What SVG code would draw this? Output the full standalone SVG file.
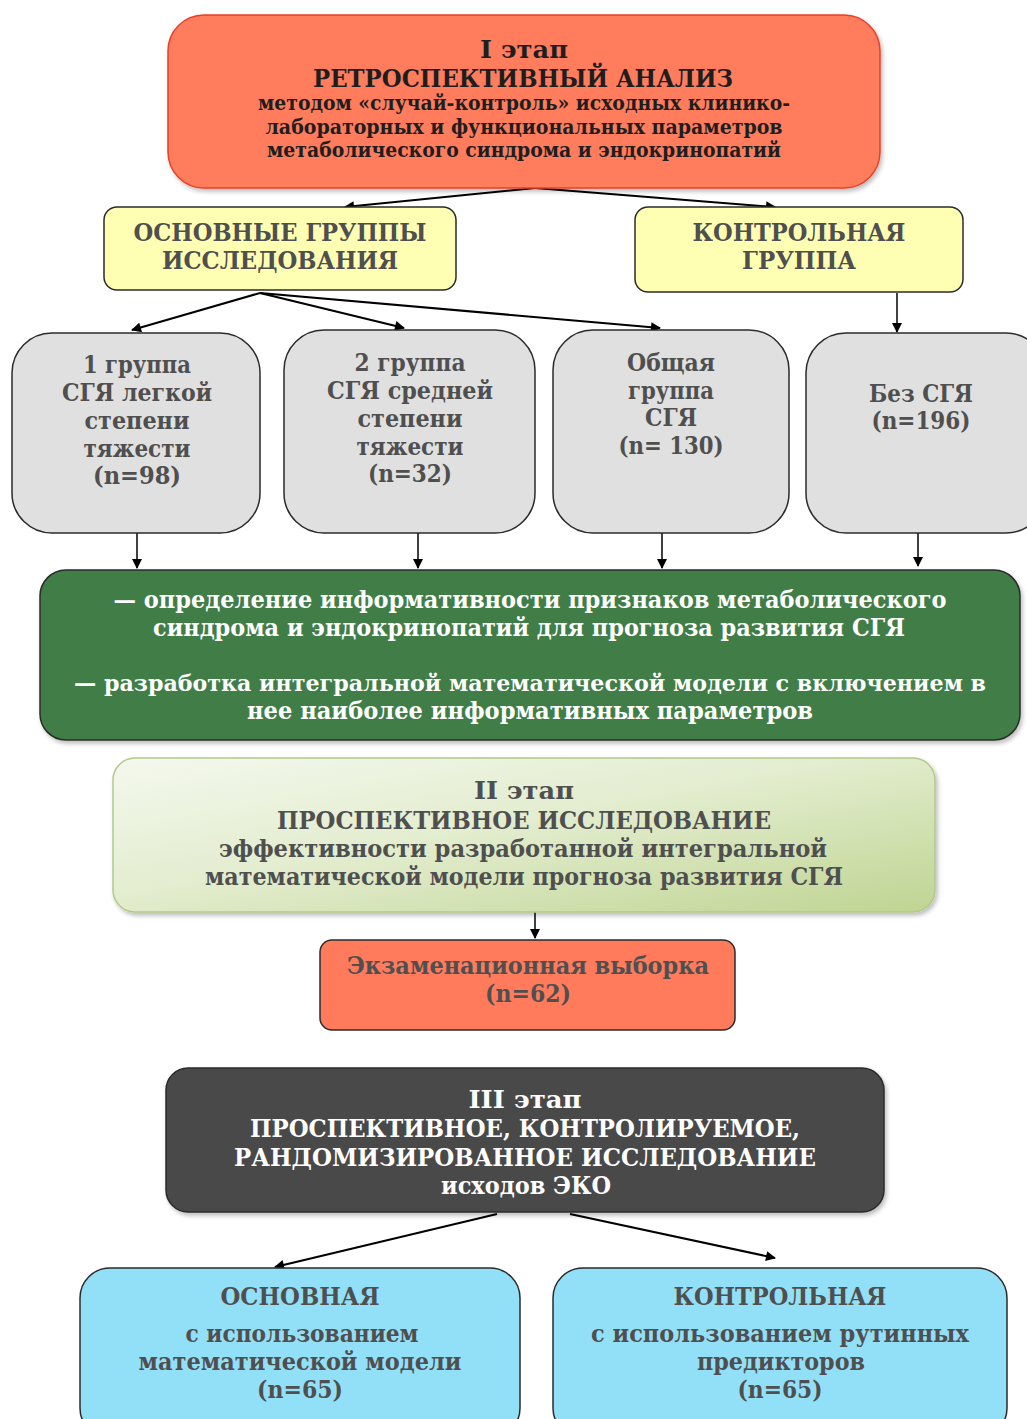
<svg xmlns="http://www.w3.org/2000/svg" width="1027" height="1419" viewBox="0 0 1027 1419">
<defs>
<style>
text{font-family:"DejaVu Serif","Liberation Serif",serif;font-weight:bold;text-anchor:middle}
.big{font-size:25px}
.mid{font-size:24px}
.sm{font-size:20px}
.dk{fill:#1e1e1e}
.gr{fill:#4f4f4f}
.wh{fill:#ffffff}
.box{stroke:#2b2b2b;stroke-width:1.5}
.con{stroke:#000;stroke-width:2;fill:none;marker-end:url(#ah)}
.conv{stroke:#000;stroke-width:1.5;fill:none;marker-end:url(#ah)}
</style>
<marker id="ah" viewBox="0 0 10 10" refX="9" refY="5" markerWidth="12" markerHeight="10" markerUnits="userSpaceOnUse" orient="auto">
<path d="M0,0 L10,5 L0,10 Z" fill="#000"/>
</marker>
<linearGradient id="g2" x1="0" y1="0" x2="1" y2="1">
<stop offset="0" stop-color="#f4f8ee"/>
<stop offset="0.45" stop-color="#e3edcf"/>
<stop offset="1" stop-color="#bfd492"/>
</linearGradient>
<filter id="sh" x="-5%" y="-5%" width="110%" height="120%">
<feDropShadow dx="2" dy="3" stdDeviation="2" flood-color="#000" flood-opacity="0.25"/>
</filter>
</defs>

<g id="connectors">
<line class="con" x1="535" y1="188" x2="345" y2="207"/>
<line class="con" x1="535" y1="188" x2="775" y2="207"/>
<line class="con" x1="260" y1="293" x2="132" y2="330"/>
<line class="con" x1="260" y1="293" x2="404" y2="328"/>
<line class="con" x1="260" y1="293" x2="660" y2="328"/>
<line class="conv" x1="897" y1="293" x2="897" y2="332"/>
<line class="conv" x1="137" y1="533" x2="137" y2="568"/>
<line class="conv" x1="418" y1="533" x2="418" y2="568"/>
<line class="conv" x1="662" y1="533" x2="662" y2="568"/>
<line class="conv" x1="918" y1="533" x2="918" y2="566"/>
<line class="conv" x1="535" y1="912" x2="535" y2="938"/>
<line class="con" x1="497" y1="1214" x2="275" y2="1267"/>
<line class="con" x1="570" y1="1214" x2="775" y2="1258"/>
</g>

<g id="stage1">
<rect x="168" y="15" width="712" height="173" rx="36" fill="#ff7b5c" stroke="#e8402a" stroke-width="1.5" filter="url(#sh)"/>
<text class="big dk" x="524" y="58" textLength="88" lengthAdjust="spacingAndGlyphs">I этап</text>
<text class="big dk" x="523" y="87" textLength="420" lengthAdjust="spacingAndGlyphs">РЕТРОСПЕКТИВНЫЙ АНАЛИЗ</text>
<text class="sm dk" x="524" y="110" textLength="532" lengthAdjust="spacingAndGlyphs">методом «случай-контроль» исходных клинико-</text>
<text class="sm dk" x="524" y="134" textLength="517" lengthAdjust="spacingAndGlyphs">лабораторных и функциональных параметров</text>
<text class="sm dk" x="524" y="157" textLength="514" lengthAdjust="spacingAndGlyphs">метаболического синдрома и эндокринопатий</text>
</g>

<g id="main-groups">
<rect class="box" x="104" y="207" width="352" height="83" rx="13" fill="#ffffb3"/>
<text class="big gr" x="280" y="241" textLength="293" lengthAdjust="spacingAndGlyphs">ОСНОВНЫЕ ГРУППЫ</text>
<text class="big gr" x="280" y="269" textLength="236" lengthAdjust="spacingAndGlyphs">ИССЛЕДОВАНИЯ</text>
</g>

<g id="control-group">
<rect class="box" x="635" y="207" width="328" height="85" rx="13" fill="#ffffb3"/>
<text class="big gr" x="799" y="241" textLength="213" lengthAdjust="spacingAndGlyphs">КОНТРОЛЬНАЯ</text>
<text class="big gr" x="799" y="269" textLength="114" lengthAdjust="spacingAndGlyphs">ГРУППА</text>
</g>

<g id="group1">
<rect class="box" x="12" y="333" width="248" height="200" rx="40" fill="#e0e0e0"/>
<text class="big gr" x="137" y="373" textLength="108" lengthAdjust="spacingAndGlyphs">1 группа</text>
<text class="big gr" x="137" y="401" textLength="150" lengthAdjust="spacingAndGlyphs">СГЯ легкой</text>
<text class="big gr" x="137" y="429" textLength="105" lengthAdjust="spacingAndGlyphs">степени</text>
<text class="big gr" x="137" y="457" textLength="107" lengthAdjust="spacingAndGlyphs">тяжести</text>
<text class="big gr" x="137" y="484" textLength="88" lengthAdjust="spacingAndGlyphs">(n=98)</text>
</g>

<g id="group2">
<rect class="box" x="284" y="330" width="251" height="203" rx="40" fill="#e0e0e0"/>
<text class="big gr" x="410" y="371" textLength="111" lengthAdjust="spacingAndGlyphs">2 группа</text>
<text class="big gr" x="410" y="399" textLength="166" lengthAdjust="spacingAndGlyphs">СГЯ средней</text>
<text class="big gr" x="410" y="427" textLength="105" lengthAdjust="spacingAndGlyphs">степени</text>
<text class="big gr" x="410" y="455" textLength="107" lengthAdjust="spacingAndGlyphs">тяжести</text>
<text class="big gr" x="410" y="482" textLength="84" lengthAdjust="spacingAndGlyphs">(n=32)</text>
</g>

<g id="group-total">
<rect class="box" x="553" y="330" width="236" height="203" rx="40" fill="#e0e0e0"/>
<text class="big gr" x="671" y="371" textLength="88" lengthAdjust="spacingAndGlyphs">Общая</text>
<text class="big gr" x="671" y="399" textLength="86" lengthAdjust="spacingAndGlyphs">группа</text>
<text class="big gr" x="671" y="426" textLength="52" lengthAdjust="spacingAndGlyphs">СГЯ</text>
<text class="big gr" x="671" y="454" textLength="105" lengthAdjust="spacingAndGlyphs">(n= 130)</text>
</g>

<g id="group-none">
<rect class="box" x="806" y="333" width="240" height="200" rx="40" fill="#e0e0e0"/>
<text class="big gr" x="921" y="402" textLength="104" lengthAdjust="spacingAndGlyphs">Без СГЯ</text>
<text class="big gr" x="921" y="429" textLength="99" lengthAdjust="spacingAndGlyphs">(n=196)</text>
</g>

<g id="analysis">
<rect class="box" x="40" y="570" width="980" height="170" rx="26" fill="#3f7d46" filter="url(#sh)"/>
<text class="mid wh" x="530" y="608" textLength="833" lengthAdjust="spacingAndGlyphs">— определение информативности признаков метаболического</text>
<text class="mid wh" x="529" y="636" textLength="752" lengthAdjust="spacingAndGlyphs">синдрома и эндокринопатий для прогноза развития СГЯ</text>
<text class="wh" style="font-size:22px" x="530" y="691" textLength="912" lengthAdjust="spacingAndGlyphs">— разработка интегральной математической модели с включением в</text>
<text class="mid wh" x="530" y="719" textLength="566" lengthAdjust="spacingAndGlyphs">нее наиболее информативных параметров</text>
</g>

<g id="stage2">
<rect x="113" y="758" width="822" height="154" rx="22" fill="url(#g2)" stroke="#b3c98a" stroke-width="1.5" filter="url(#sh)"/>
<text class="mid gr" x="524" y="799" textLength="100" lengthAdjust="spacingAndGlyphs">II этап</text>
<text class="mid gr" x="524" y="829" textLength="494" lengthAdjust="spacingAndGlyphs">ПРОСПЕКТИВНОЕ ИССЛЕДОВАНИЕ</text>
<text class="mid gr" x="523" y="857" textLength="608" lengthAdjust="spacingAndGlyphs">эффективности разработанной интегральной</text>
<text class="mid gr" x="524" y="885" textLength="638" lengthAdjust="spacingAndGlyphs">математической модели прогноза развития СГЯ</text>
</g>

<g id="exam-sample">
<rect class="box" x="320" y="940" width="415" height="90" rx="12" fill="#ff7b5c"/>
<text class="mid gr" x="528" y="974" textLength="362" lengthAdjust="spacingAndGlyphs">Экзаменационная выборка</text>
<text class="mid gr" x="528" y="1002" textLength="86" lengthAdjust="spacingAndGlyphs">(n=62)</text>
</g>

<g id="stage3">
<rect class="box" x="166" y="1068" width="718" height="144" rx="22" fill="#4a4a48" filter="url(#sh)"/>
<text class="mid wh" x="525" y="1108" textLength="113" lengthAdjust="spacingAndGlyphs">III этап</text>
<text class="mid wh" x="525" y="1137" textLength="550" lengthAdjust="spacingAndGlyphs">ПРОСПЕКТИВНОЕ, КОНТРОЛИРУЕМОЕ,</text>
<text class="mid wh" x="525" y="1166" textLength="582" lengthAdjust="spacingAndGlyphs">РАНДОМИЗИРОВАННОЕ ИССЛЕДОВАНИЕ</text>
<text class="mid wh" x="526" y="1194" textLength="170" lengthAdjust="spacingAndGlyphs">исходов ЭКО</text>
</g>

<g id="main-arm">
<rect class="box" x="80" y="1268" width="440" height="170" rx="30" fill="#92e0f8"/>
<text class="big gr" x="300" y="1305" textLength="159" lengthAdjust="spacingAndGlyphs">ОСНОВНАЯ</text>
<text class="big gr" x="302" y="1342" textLength="233" lengthAdjust="spacingAndGlyphs">с использованием</text>
<text class="big gr" x="300" y="1370" textLength="323" lengthAdjust="spacingAndGlyphs">математической модели</text>
<text class="big gr" x="300" y="1398" textLength="86" lengthAdjust="spacingAndGlyphs">(n=65)</text>
</g>

<g id="control-arm">
<rect class="box" x="553" y="1268" width="454" height="170" rx="30" fill="#92e0f8"/>
<text class="big gr" x="780" y="1305" textLength="213" lengthAdjust="spacingAndGlyphs">КОНТРОЛЬНАЯ</text>
<text class="big gr" x="780" y="1342" textLength="378" lengthAdjust="spacingAndGlyphs">с использованием рутинных</text>
<text class="big gr" x="781" y="1370" textLength="168" lengthAdjust="spacingAndGlyphs">предикторов</text>
<text class="big gr" x="780" y="1398" textLength="85" lengthAdjust="spacingAndGlyphs">(n=65)</text>
</g>
</svg>
